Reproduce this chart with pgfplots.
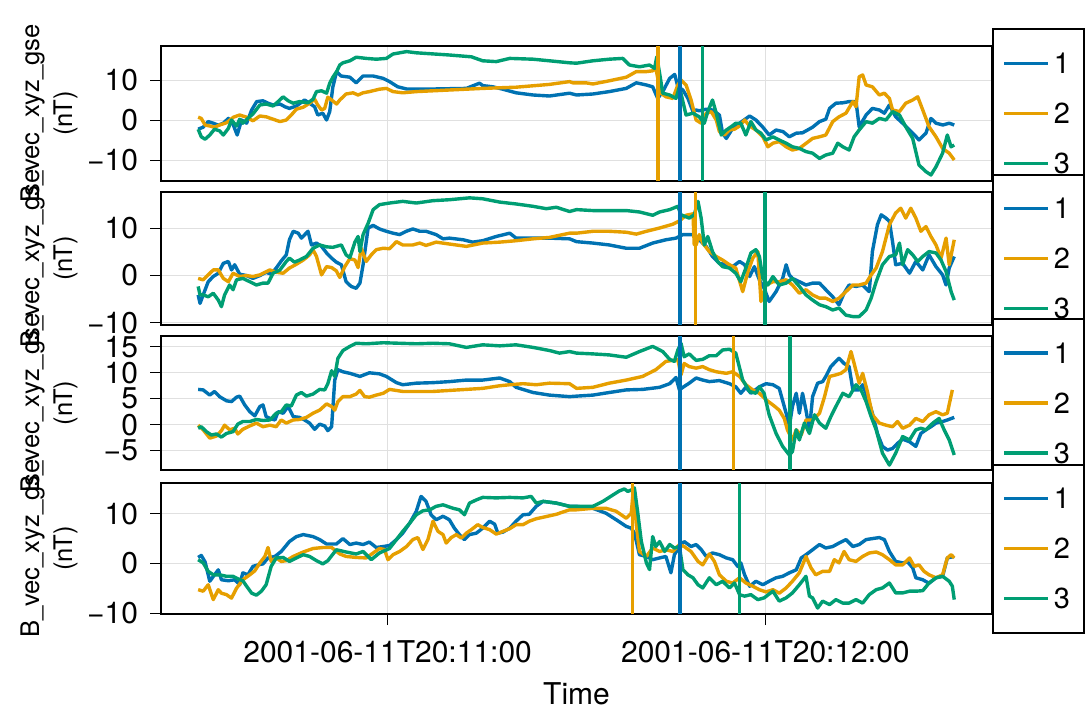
\documentclass[border=0pt]{standalone}
\usepackage{fontspec}
\setmainfont{TeX Gyre Heros}
\usepackage{pgfplots}
\pgfplotsset{compat=1.18}
\definecolor{c1}{RGB}{0,114,178}
\definecolor{c2}{RGB}{230,159,0}
\definecolor{c3}{RGB}{0,158,115}
\pgfplotsset{
  panel/.style={
    scale only axis,
    width=415.5pt,
    xmin=24, xmax=156,
    xtick={60,120},
    xticklabels={},
    tick pos=left,
    tick align=outside,
    major tick length=5.5pt,
    grid=major,
    major grid style={black!12, line width=0.5pt},
    axis line style={black, line width=1pt},
    every tick/.style={black, line width=0.5pt},
    tick label style={font=\fontsize{15}{17}\selectfont},
    yticklabel style={xshift=-2.5pt},
    xticklabel style={yshift=-4.5pt},
    ylabel={B\_vec\_xyz\_gse\\(nT)},
    ylabel style={at={([xshift=-56pt]rel axis cs:0,0.5)}, anchor=center, align=center,
      font=\fontsize{12.8}{16.5}\selectfont},
    legend style={at={(rel axis cs:1,0.5)}, anchor=west, draw=black, line width=1pt,
      fill=white, font=\fontsize{14.5}{16}\selectfont, inner xsep=4.85pt, inner ysep=10pt,
      row sep=11pt, nodes={inner sep=2pt, text height=10pt, text depth=0pt}},
    legend image code/.code={\draw[#1, line width=1.6pt] (0pt,0pt) -- (22pt,0pt);},
    legend cell align=left,
    every axis plot/.append style={line width=1.7pt, line join=round},
    no markers,
  },
  upper/.style={xtick style={draw=none}},
}
\begin{document}
\begin{tikzpicture}
% ---------------- panel 1 ----------------
\begin{axis}[panel, upper, at={(80.5pt,263.5pt)}, anchor=south west, height=67.5pt,
  ymin=-15.25, ymax=18.5, ytick={-10,0,10}, yticklabels={−10,0,10}]
\addplot[c1] coordinates {
(29.9,-2.3)(30.7,-1.8)(31.5,-0.4)(32.3,-0.8)(33.1,-1.3)(33.9,-0.8)(34.7,0.4)(35.5,-1.3)
(36.1,-3.75)(36.8,0)(37.6,-0.8)(38.4,2.5)(39.2,4.6)(40.2,4.8)(41.0,4.2)(41.8,3.75)(42.9,4.0)
(43.7,3.3)(44.4,2.9)(45.5,3.5)(46.8,5.0)(47.6,4.2)(48.4,3.3)(48.9,1.25)(49.7,1.7)(50.3,0)
(50.8,2.1)(51.3,8.3)(51.9,12.1)(52.6,11.0)(54.0,10.7)(55.0,9.3)(56.1,11.0)(57.7,11.0)
(59.3,10.4)(60.3,9.6)(61.6,8.3)(63.0,7.75)(67.2,7.75)(72.5,7.9)(74.6,9.2)(75.1,8.6)(76.7,8.3)
(78.3,7.7)(80.4,6.8)(83.1,6.25)(85.7,6.0)(88.9,6.7)(90.0,6.25)(92.6,6.5)(95.2,7.1)(97.9,7.9)
(99.5,9.3)(101.1,8.75)(102.1,8.3)(102.9,5.4)(103.7,7.1)(104.8,10.4)(105.6,11.4)(106.1,8.3)
(106.9,7.5)(107.7,5.4)(108.5,2.1)(109.0,2.5)(109.5,2.3)(110.6,2.7)(111.6,2.5)(112.7,1.25)
(113.2,-3.3)(113.8,-4.6)(114.8,-2.1)(115.9,-0.8)(117.5,1.0)(118.5,0)(119.6,-1.8)(120.6,-3.75)
(121.7,-2.5)(122.8,-2.9)(123.8,-4.2)(124.9,-3.3)(125.9,-3.2)(127.5,-1.8)(128.6,-0.4)(129.6,0.2)
(130.2,2.9)(131.2,4.2)(132.3,4.3)(133.3,4.6)(134.4,4.6)(134.9,-1.7)(136.0,1.25)(137.0,2.9)
(138.1,2.5)(138.9,1.7)(139.7,3.75)(140.7,0.8)(141.8,-0.8)(142.9,-2.5)(143.7,-3.75)(144.4,-5.0)
(145.5,-3.3)(146.3,0.4)(147.1,-0.8)(148.2,-1.25)(149.2,-0.8)(150.0,-1.25)};
\addlegendentry{1}
\addplot[c2] coordinates {
(29.9,0.7)(30.4,0.4)(31.0,-1.25)(31.75,-1.5)(32.5,-1.8)(33.3,-1.25)(34.4,-0.7)(35.5,0.7)
(36.5,1.25)(37.6,0.7)(38.6,-0.2)(39.7,1.0)(40.7,0.8)(41.8,0.2)(42.9,-0.4)(43.9,0)(44.7,1.25)
(45.5,2.7)(46.6,3.2)(47.6,4.2)(48.4,5.2)(48.9,3.75)(49.5,2.5)(50.0,2.9)(50.5,5.7)(51.1,5.0)
(51.9,4.0)(52.4,5.0)(53.4,6.5)(54.5,6.8)(55.3,6.25)(56.1,6.8)(57.1,7.1)(58.7,7.7)(59.8,7.9)
(60.85,7.1)(62.4,6.8)(64.55,7.1)(69.8,7.5)(75.1,7.9)(80.4,8.2)(85.7,8.9)(88.9,9.6)(89.4,9.3)
(91.5,9.3)(92.6,9.0)(95.2,9.8)(97.9,10.7)(99.5,12.1)(101.1,12.1)(102.1,12.3)(102.6,12.9)
(103.4,6.7)(104.2,5.8)(105.3,5.4)(106.1,8.75)(106.6,10.0)(107.4,8.75)(108.2,5.0)(109.0,0)
(109.8,-0.8)(110.6,1.7)(111.4,2.1)(112.2,0)(112.7,-2.9)(113.5,-3.75)(114.3,-2.5)(115.1,-2.3)
(115.9,-1.5)(116.7,0)(117.5,-1.5)(118.5,-2.5)(119.6,-4.2)(120.4,-6.7)(121.2,-5.8)(122.2,-5.4)
(123.3,-6.7)(124.3,-7.5)(125.4,-7.1)(126.5,-5.8)(127.5,-4.6)(128.6,-4.2)(129.6,-3.75)(130.7,-0.4)
(131.7,0.8)(132.8,1.7)(133.9,4.6)(134.4,3.3)(134.9,10.8)(135.45,11.25)(136.0,8.75)(137.0,8.3)
(138.1,6.25)(138.9,6.7)(139.7,5.4)(140.2,2.5)(141.3,2.1)(142.3,4.2)(143.4,5.0)(144.2,5.8)
(145.0,2.5)(146.0,-1.7)(147.1,-4.2)(148.15,-7.1)(149.2,-8.3)(150.0,-10.0)};
\addlegendentry{2}
\addplot[c3] coordinates {
(29.9,-2.3)(30.4,-4.2)(31.0,-4.8)(31.75,-3.75)(32.5,-2.3)(33.3,-2.7)(33.9,-3.75)(34.7,-2.1)
(35.2,0)(36.0,-1.5)(36.5,0.2)(37.0,-0.8)(37.8,0.4)(38.6,1.5)(39.7,3.75)(40.7,4.0)(41.8,3.5)
(42.6,4.6)(43.4,5.8)(44.2,4.8)(45.0,4.2)(46.0,4.6)(47.35,4.3)(48.15,5.2)(48.7,7.1)(49.5,7.3)
(50.3,6.7)(50.8,9.2)(51.3,10.7)(51.9,12.1)(52.4,13.75)(52.9,14.3)(54.0,14.8)(55.0,15.7)
(56.6,15.4)(58.2,15.2)(59.8,15.4)(60.85,16.5)(63.0,17.1)(64.55,16.8)(69.8,16.25)(73.3,15.8)
(75.1,14.8)(77.25,14.6)(79.4,15.4)(83.1,15.2)(85.7,14.8)(88.9,14.3)(90.0,14.2)(92.6,14.8)
(95.2,15.2)(97.35,15.4)(98.4,13.75)(100.0,13.3)(101.6,13.75)(102.4,12.9)(102.75,15.8)
(103.2,11.7)(103.7,6.7)(104.8,6.25)(105.8,5.4)(106.35,8.3)(107.4,1.25)(108.5,1.7)(109.5,0.8)
(110.3,-0.8)(110.85,2.1)(111.6,5.0)(112.2,1.7)(113.0,-3.75)(113.8,-2.5)(114.55,-1.7)(115.3,-0.8)
(116.1,-0.8)(116.9,-3.75)(117.7,-0.4)(118.5,-2.5)(119.3,-3.3)(120.1,-5.0)(121.2,-4.2)(122.2,-5.0)
(123.3,-5.8)(124.3,-6.7)(125.4,-7.1)(126.45,-7.9)(127.5,-8.3)(128.6,-9.6)(129.6,-8.75)
(130.7,-8.3)(131.5,-5.8)(132.3,-6.7)(133.3,-7.5)(134.1,-4.2)(134.9,-2.5)(136.0,-0.4)(137.0,-0.8)
(138.1,0.4)(139.15,0)(140.2,2.1)(141.3,1.25)(142.3,-1.7)(143.4,-4.6)(144.4,-11.25)(145.5,-12.9)
(146.3,-13.75)(147.1,-11.7)(148.15,-8.3)(148.9,-3.75)(149.5,-6.7)(150.0,-6.25)};
\addlegendentry{3}
\addplot[c2, forget plot] coordinates {(102.97,-15.25)(102.97,18.5)};
\addplot[c1, forget plot] coordinates {(106.46,-15.25)(106.46,18.5)};
\addplot[c3, forget plot] coordinates {(110.0,-15.25)(110.0,18.5)};
\end{axis}
% ---------------- panel 2 ----------------
\begin{axis}[panel, upper, at={(80.5pt,191.5pt)}, anchor=south west, height=66.5pt,
  ymin=-10.49, ymax=17.74, ytick={-10,0,10}, yticklabels={−10,0,10}]
\addplot[c1] coordinates {
(29.9,-4.1)(30.2,-5.9)(30.7,-4.1)(31.5,-1.3)(32.3,-0.2)(33.1,0.5)(33.9,2.6)(34.7,3.0)(35.2,1.2)
(35.7,2.3)(36.5,0.3)(37.6,0)(38.6,-0.6)(39.7,0)(40.7,0.7)(41.5,0.3)(42.3,1.6)(43.1,3.1)(43.9,4.4)
(44.4,7.6)(45.0,9.4)(45.8,9.0)(46.3,7.95)(47.35,9.4)(47.9,6.5)(48.7,6.9)(49.5,6.2)(50.3,4.8)
(51.1,3.7)(51.85,2.85)(52.65,2.3)(53.4,-1.3)(54.2,-2.3)(55.0,-2.7)(55.6,-1.6)(56.1,2.3)(56.9,10.1)
(57.7,10.65)(58.7,9.9)(59.8,9.4)(60.85,9.0)(61.9,8.7)(62.96,9.4)(64.0,9.9)(65.1,9.4)(66.1,9.4)
(67.7,8.7)(68.8,7.8)(69.8,7.95)(72.0,7.6)(73.5,7.1)(75.1,7.4)(77.25,8.3)(79.4,9.0)(80.4,7.95)
(83.1,7.95)(85.7,7.95)(88.9,7.8)(90.0,7.2)(92.6,6.9)(95.2,6.5)(97.9,5.8)(100.0,5.8)(102.1,6.9)
(104.2,7.6)(105.8,7.95)(106.9,8.7)(108.5,8.7)(109.0,8.3)(109.8,7.2)(110.6,6.2)(111.6,4.05)
(112.7,2.6)(113.8,2.3)(114.8,1.9)(115.9,3.0)(116.7,2.3)(117.5,-0.2)(118.25,1.9)(119.05,-0.9)
(119.8,-2.7)(120.6,-5.5)(121.7,-3.4)(122.75,-0.6)(123.3,2.3)(123.8,0.15)(124.3,-0.6)(125.4,-1.3)
(126.45,-2.0)(127.5,-1.6)(128.6,-1.6)(129.6,-3.0)(130.7,-4.5)(131.7,-6.2)(132.5,-3.75)(133.3,-2.0)
(134.4,-2.3)(135.45,-2.0)(136.5,-3.4)(137.0,5.1)(137.8,10.8)(138.4,12.9)(139.15,12.2)(139.7,11.5)
(140.2,7.2)(140.7,2.3)(141.8,2.6)(142.9,0.5)(143.9,3.0)(145.0,1.2)(146.0,4.4)(147.1,1.9)
(148.15,0.15)(148.7,-2.0)(149.2,1.6)(150.0,4.05)};
\addlegendentry{1}
\addplot[c2] coordinates {
(29.9,-0.6)(30.7,-0.9)(31.5,0.15)(32.3,1.2)(33.1,1.2)(33.9,-0.6)(34.7,-1.3)(35.45,0.5)(36.5,-0.2)
(37.6,0)(38.6,-0.2)(39.7,0.15)(41.3,1.2)(42.3,0.7)(43.4,0.5)(44.4,1.6)(45.5,2.4)(46.6,3.3)
(47.6,4.4)(48.15,5.5)(48.7,4.05)(49.5,0.15)(50.3,1.9)(51.1,1.7)(51.85,1.0)(52.4,-0.4)(53.2,1.9)
(54.0,3.6)(54.8,3.3)(55.3,1.7)(55.8,5.8)(56.6,3.0)(57.4,4.4)(58.2,5.5)(59.3,5.8)(60.3,5.7)
(61.4,7.2)(62.4,6.5)(64.0,6.5)(65.1,6.9)(66.1,6.4)(67.7,7.1)(69.8,6.7)(72.5,6.2)(75.1,6.9)
(77.8,7.1)(80.4,7.4)(83.1,7.8)(85.7,8.1)(88.9,9.0)(90.0,9.0)(92.6,9.4)(95.2,9.4)(97.9,9.2)
(99.5,8.8)(101.1,9.4)(103.2,10.1)(105.3,10.9)(106.35,11.6)(107.4,12.8)(108.5,13.1)(108.7,6.5)
(109.0,6.5)(109.5,8.7)(110.05,6.9)(111.1,5.1)(112.2,4.05)(113.2,3.3)(114.3,2.3)(115.3,1.6)
(116.4,-3.4)(117.2,0.7)(118.0,3.7)(118.8,5.1)(119.3,-5.5)(120.1,-2.0)(121.2,-1.3)(122.2,-1.3)
(123.3,-0.9)(124.3,-2.0)(125.4,-3.75)(126.45,-3.0)(127.5,-4.1)(128.6,-4.8)(129.6,-4.8)
(130.7,-5.5)(131.7,-4.8)(132.8,-3.4)(133.9,-2.0)(134.9,-2.0)(136.0,-1.6)(136.8,0.15)(137.6,1.6)
(138.6,5.1)(139.7,10.8)(140.7,13.3)(141.5,14.3)(142.3,12.2)(143.1,14.3)(143.9,12.2)(144.7,9.4)
(145.5,10.4)(146.3,8.3)(147.1,6.5)(147.9,3.7)(148.7,7.95)(149.2,2.3)(150.0,7.6)};
\addlegendentry{2}
\addplot[c3] coordinates {
(29.9,-2.3)(30.2,-4.1)(30.7,-4.1)(31.5,-4.5)(32.3,-3.75)(33.1,-5.2)(33.6,-6.6)(34.1,-4.1)
(34.9,-2.0)(35.45,-3.0)(36.0,-0.9)(37.0,-0.6)(38.1,-1.3)(39.15,-2.0)(40.2,-1.6)(41.0,-1.6)
(41.8,0.5)(42.9,1.2)(43.9,3.0)(44.4,3.7)(45.2,2.85)(46.0,3.3)(47.1,4.05)(48.15,5.8)(49.2,6.5)
(50.3,6.1)(51.3,6.0)(52.65,6.5)(53.4,4.4)(54.0,3.8)(54.8,7.1)(55.3,8.3)(55.6,5.1)(56.1,8.7)
(56.9,11.1)(57.7,14.0)(58.7,15.05)(60.3,15.4)(62.4,15.75)(64.55,15.4)(67.2,15.9)(69.8,16.1)
(73.0,16.5)(75.1,16.3)(77.8,15.6)(80.4,15.2)(83.1,14.7)(85.2,14.2)(86.8,14.5)(88.9,13.6)
(90.0,14.0)(92.6,13.8)(95.2,13.8)(97.9,13.8)(100.0,13.5)(102.1,12.8)(103.2,13.5)(104.8,14.0)
(106.1,14.7)(106.6,12.9)(107.9,12.2)(108.7,12.9)(109.3,15.75)(109.8,12.2)(110.3,6.5)(110.85,8.3)
(111.6,5.1)(112.4,3.0)(113.2,1.9)(114.3,1.6)(115.3,0.5)(116.1,-1.3)(116.9,1.6)(117.7,4.8)
(118.5,5.5)(119.05,4.05)(119.6,-0.6)(120.4,-2.0)(121.2,-0.2)(122.2,-2.0)(123.3,-1.6)(124.3,-0.6)
(125.4,-2.3)(126.45,-4.1)(127.5,-5.2)(128.6,-6.2)(129.6,-6.6)(130.7,-7.3)(131.7,-6.9)(132.8,-8.4)
(133.9,-8.7)(134.9,-8.7)(136.0,-7.3)(136.8,-4.8)(137.6,-1.3)(138.6,2.3)(139.7,4.05)(140.7,4.4)
(141.3,6.9)(141.8,2.3)(142.6,5.5)(143.4,4.4)(144.2,3.0)(145.0,4.05)(146.0,5.1)(147.1,4.8)
(147.9,3.3)(148.7,0.85)(149.5,-3.4)(150.0,-5.2)};
\addlegendentry{3}
\addplot[c1, forget plot] coordinates {(106.46,-10.49)(106.46,17.74)};
\addplot[c2, forget plot] coordinates {(108.94,-10.49)(108.94,17.74)};
\addplot[c3, forget plot] coordinates {(119.95,-10.49)(119.95,17.74)};
\end{axis}
% ---------------- panel 3 ----------------
\begin{axis}[panel, upper, at={(80.5pt,119pt)}, anchor=south west, height=67pt,
  ymin=-8.75, ymax=17.1, ytick={-5,0,5,10,15}, yticklabels={−5,0,5,10,15}]
\addplot[c1] coordinates {
(29.9,6.8)(30.7,6.7)(31.75,5.7)(32.5,6.4)(33.3,5.4)(34.4,4.6)(35.2,4.45)(36.0,5.3)(36.5,5.5)
(37.3,3.8)(38.1,2.5)(38.9,1.7)(39.7,3.5)(40.2,3.8)(40.7,1.55)(41.3,1.2)(42.1,0.9)(42.6,2.5)
(43.4,2.2)(44.2,3.5)(45.0,1.55)(46.0,1.4)(46.8,0.9)(47.6,0.3)(48.4,-0.9)(49.2,0.1)(50.0,-0.25)
(50.5,-1.15)(51.1,-0.4)(51.6,8.6)(52.1,10.6)(52.9,10.2)(54.0,9.9)(55.6,9.3)(57.1,10.0)(58.7,9.8)
(59.8,9.3)(61.4,8.1)(62.4,7.7)(64.55,8.0)(67.2,8.1)(69.8,8.3)(72.5,8.6)(75.1,8.6)(77.8,9.0)
(79.4,8.3)(80.4,7.2)(83.1,6.2)(85.7,5.7)(88.9,5.4)(90.0,5.5)(92.6,5.7)(95.2,6.2)(97.9,6.7)
(100.5,6.8)(103.2,7.2)(104.8,7.9)(105.8,9.1)(106.35,6.7)(106.9,7.2)(107.9,8.0)(109.0,9.0)
(110.05,8.6)(111.1,8.3)(112.7,8.5)(114.3,7.9)(115.3,7.3)(116.1,6.05)(116.9,7.2)(117.7,6.05)
(119.05,7.3)(120.1,7.9)(121.2,7.7)(122.2,7.0)(123.3,2.2)(123.8,-0.4)(124.3,3.5)(124.9,6.05)
(125.4,2.2)(125.9,6.05)(126.45,2.8)(127.0,-1.0)(127.5,5.4)(128.3,8.0)(129.1,8.3)(129.6,9.3)
(130.4,11.2)(131.2,12.2)(131.7,12.8)(132.5,11.8)(133.3,11.2)(133.9,6.7)(134.9,6.7)(135.45,7.7)
(136.2,5.4)(137.0,2.2)(137.8,-1.7)(138.6,-4.2)(139.4,-4.9)(140.2,-4.6)(141.0,-3.6)(141.8,-2.8)
(142.9,-3.3)(143.9,-4.2)(144.7,-1.7)(145.5,-1.0)(146.3,-0.4)(147.1,0.3)(148.15,0.6)(148.9,0.9)
(150.0,1.4)};
\addlegendentry{1}
\addplot[c2] coordinates {
(29.9,-0.1)(30.7,-1.0)(31.75,-2.6)(32.8,-2.2)(33.6,-1.15)(34.1,-0.1)(34.9,-1.0)(35.7,-0.7)
(36.2,-1.8)(37.0,-0.9)(38.1,-0.25)(39.15,0.3)(40.2,-0.4)(41.3,-0.1)(42.3,-0.4)(43.1,0.9)(43.9,0.3)
(45.0,0.9)(46.0,1.0)(47.1,1.4)(48.15,2.2)(49.2,2.8)(50.3,4.0)(51.1,3.5)(51.6,2.8)(52.1,4.45)
(52.9,5.4)(54.0,5.4)(55.0,5.9)(55.6,6.6)(56.35,5.4)(57.1,5.3)(58.2,5.7)(59.3,6.05)(60.3,6.8)
(62.4,6.4)(64.55,6.4)(67.2,6.4)(69.8,6.6)(72.5,6.8)(75.1,7.0)(77.8,7.5)(79.4,7.7)(81.5,7.9)
(83.6,7.7)(85.7,8.0)(88.9,7.9)(90.0,7.0)(92.6,7.2)(95.2,8.0)(97.9,8.6)(100.5,9.3)(102.6,10.6)
(104.2,12.2)(105.3,12.4)(106.1,12.5)(106.6,9.6)(107.1,11.8)(107.9,11.2)(109.0,10.9)(110.05,11.2)
(111.1,10.6)(112.2,10.2)(113.8,9.9)(114.8,10.2)(115.9,9.3)(116.9,7.7)(118.0,6.7)(119.05,6.05)
(120.1,4.8)(121.2,3.8)(122.2,2.8)(123.0,1.2)(123.5,-1.0)(124.3,-2.95)(124.9,-1.0)(125.7,-2.0)
(126.45,0.9)(127.5,0.9)(128.6,2.2)(129.4,5.4)(130.2,9.3)(131.2,9.6)(132.0,9.9)(132.8,10.6)
(133.6,14.1)(134.1,11.8)(134.9,8.0)(135.45,9.9)(136.2,6.4)(137.0,1.9)(138.1,0.3)(139.15,-0.1)
(140.2,-0.4)(141.0,0.6)(141.8,-0.7)(142.9,-0.1)(143.9,1.2)(145.0,0.6)(146.0,1.9)(147.1,2.5)
(148.15,1.9)(148.9,2.2)(149.7,6.7)};
\addlegendentry{2}
\addplot[c3] coordinates {
(29.9,-0.7)(30.4,-0.4)(31.2,-1.35)(32.0,-2.0)(32.8,-1.8)(33.6,-2.4)(34.4,-1.7)(35.45,-1.35)
(36.2,0.1)(37.0,0.6)(38.1,0.6)(39.15,1.0)(40.2,0.8)(41.3,0.9)(42.3,2.2)(43.1,2.5)(43.9,3.8)
(44.7,3.6)(45.5,5.7)(46.3,6.2)(47.1,5.5)(48.15,5.9)(49.2,6.8)(50.0,6.7)(50.5,7.9)(51.1,10.4)
(51.6,9.3)(52.1,12.8)(52.9,14.3)(54.0,15.1)(55.0,15.7)(56.6,15.6)(59.3,15.8)(61.9,15.7)
(64.55,15.6)(67.2,15.7)(69.8,15.6)(72.5,14.9)(75.1,15.4)(77.8,15.2)(80.4,15.4)(83.1,14.9)
(85.7,14.3)(87.3,13.8)(88.9,14.1)(90.0,13.8)(92.6,13.65)(95.2,13.45)(97.9,13.0)(100.0,14.1)
(102.1,15.1)(103.7,14.1)(104.8,12.6)(105.55,12.2)(106.1,14.4)(106.6,15.7)(107.1,13.1)
(107.9,13.65)(109.0,12.4)(110.05,12.6)(111.1,13.3)(112.2,13.3)(113.2,14.4)(114.3,14.55)
(115.3,13.8)(116.4,8.6)(117.5,6.4)(118.5,6.05)(119.05,7.3)(119.8,6.05)(120.6,1.9)(121.7,-1.7)
(122.75,-4.2)(123.8,-5.85)(124.3,-5.2)(124.9,-1.0)(125.4,-2.95)(126.2,0.3)(127.0,-1.7)
(127.8,1.9)(128.6,0.3)(129.6,-0.7)(130.4,1.55)(131.2,3.5)(132.3,6.05)(133.3,5.4)(134.4,7.7)
(135.2,6.7)(136.0,4.45)(136.8,1.55)(137.6,-1.0)(138.6,-5.5)(139.7,-7.8)(140.7,-5.5)(141.8,-2.3)
(142.9,-2.95)(143.9,-1.0)(144.7,-0.7)(145.5,-1.0)(146.6,0.3)(147.6,1.2)(148.4,-1.0)(149.2,-2.95)
(150.0,-5.85)};
\addlegendentry{3}
\addplot[c1, forget plot] coordinates {(106.46,-8.75)(106.46,17.1)};
\addplot[c2, forget plot] coordinates {(114.92,-8.75)(114.92,17.1)};
\addplot[c3, forget plot] coordinates {(123.92,-8.75)(123.92,17.1)};
\end{axis}
% ---------------- panel 4 ----------------
\begin{axis}[panel, at={(80.5pt,47pt)}, anchor=south west, height=65.5pt,
  ymin=-10.2, ymax=16.2, ytick={-10,0,10}, yticklabels={−10,0,10},
  xticklabels={2001-06-11T20:11:00,2001-06-11T20:12:00},
  xlabel={Time},
  xlabel style={at={([yshift=-45pt]rel axis cs:0.5,0)}, anchor=base,
    font=\fontsize{15}{17}\selectfont}]
\addplot[c1] coordinates {
(29.9,1.2)(30.4,1.6)(31.0,0.3)(31.75,-3.6)(32.5,-2.3)(33.1,-1.3)(33.6,-3.3)(34.7,-3.5)(35.7,-3.3)
(36.5,-4.3)(37.0,-1.9)(37.8,-2.3)(38.6,-0.6)(39.4,-0.3)(40.2,-0.1)(41.0,1.1)(42.1,1.4)(43.1,2.4)
(44.4,4.4)(45.5,5.4)(46.6,5.8)(48.15,5.4)(49.2,4.8)(50.3,3.9)(51.85,3.9)(52.9,5.0)(54.0,3.8)
(55.0,4.1)(56.1,3.8)(57.1,4.3)(58.2,3.2)(59.3,3.4)(60.3,3.6)(61.4,4.8)(62.4,6.1)(63.5,8.1)
(64.55,10.5)(65.3,13.5)(66.1,12.5)(66.9,9.8)(67.7,8.8)(68.8,9.5)(69.8,8.8)(70.6,7.1)(71.4,5.8)
(72.2,4.8)(73.0,5.8)(74.1,6.1)(75.1,7.1)(76.2,8.5)(77.0,7.9)(77.5,6.1)(78.3,6.3)(79.4,7.1)
(80.4,8.5)(81.5,9.8)(82.5,9.9)(83.6,11.5)(84.7,12.5)(86.8,12.15)(88.9,11.5)(90.0,11.5)(92.6,11.1)
(94.7,10.1)(96.3,8.8)(97.9,7.45)(98.7,7.1)(99.2,6.1)(100.0,1.75)(101.1,1.4)(102.1,0.75)(103.2,1.1)
(104.2,1.4)(105.0,-1.9)(105.55,1.75)(106.35,3.4)(107.1,4.4)(108.2,3.4)(109.0,3.8)(109.8,2.8)
(110.6,1.4)(111.6,2.1)(112.7,1.75)(113.8,1.1)(114.8,0.75)(115.6,-0.6)(116.1,0.1)(116.7,-2.3)
(117.5,-4.6)(118.5,-3.6)(119.6,-4.3)(120.6,-3.6)(121.7,-2.9)(122.75,-2.6)(123.8,-1.9)(124.9,-1.3)
(125.7,1.1)(126.45,1.75)(127.5,2.75)(128.6,3.8)(129.6,3.1)(130.7,3.4)(131.7,4.1)(132.8,4.8)
(133.9,3.4)(134.9,3.8)(136.0,4.8)(137.0,5.0)(138.1,5.2)(138.9,4.8)(139.7,2.4)(140.7,0.4)
(141.8,0.1)(142.6,0.3)(143.4,-0.9)(143.9,-2.9)(145.0,-3.3)(146.0,-4.0)(147.1,-2.9)(148.15,-2.6)
(148.9,1.1)(150.0,1.4)};
\addlegendentry{1}
\addplot[c2] coordinates {
(29.9,-5.3)(30.7,-5.6)(31.5,-4.3)(32.3,-7.3)(33.1,-5.3)(33.6,-6.0)(34.4,-6.3)(35.2,-7.0)(36.0,-5.0)
(37.0,-3.3)(38.1,-2.3)(38.9,-1.5)(39.7,0.1)(40.5,1.4)(41.0,3.2)(41.5,0.4)(42.3,1.1)(43.1,0.4)
(43.9,0.55)(45.0,1.4)(46.6,2.3)(48.15,3.0)(49.7,3.2)(51.1,3.2)(52.4,1.9)(53.4,1.4)(55.0,1.2)
(56.6,1.1)(57.7,2.1)(58.7,3.0)(59.5,2.8)(60.05,0.75)(60.85,1.75)(61.9,2.4)(63.0,3.4)(64.0,4.8)
(64.8,5.2)(65.6,2.8)(66.4,4.8)(67.2,8.5)(68.0,6.45)(68.8,5.8)(69.3,4.1)(70.1,5.2)(70.9,5.8)
(71.7,5.1)(72.5,6.1)(73.3,6.8)(74.3,7.8)(75.1,7.25)(76.2,6.8)(77.25,5.9)(78.3,6.45)(79.4,7.0)
(80.4,7.8)(81.5,7.8)(82.5,8.5)(83.6,9.0)(84.7,9.3)(86.8,9.9)(88.9,10.8)(90.0,10.8)(92.6,11.1)
(94.7,11.1)(96.3,10.5)(97.9,9.1)(98.7,10.1)(99.05,15.2)(99.5,7.8)(100.0,2.4)(101.1,1.4)(102.1,3.1)
(103.2,2.4)(104.2,2.75)(105.3,2.4)(106.35,3.8)(107.1,3.4)(108.2,2.4)(109.3,0.4)(110.05,-0.3)
(111.1,1.9)(111.9,0.4)(112.7,-2.3)(113.8,-3.6)(114.8,-3.95)(115.9,-2.9)(116.9,-3.95)(118.0,-4.6)
(119.05,-5.3)(120.1,-5.75)(121.2,-5.3)(122.2,-6.0)(123.3,-4.95)(124.3,-3.6)(125.4,-1.9)
(126.45,1.4)(127.25,-0.9)(128.0,-2.3)(129.1,-1.6)(130.2,-1.6)(130.95,0.75)(131.7,0.1)(132.5,2.4)
(133.3,0.75)(134.4,0.4)(135.45,1.4)(136.5,2.1)(137.6,2.3)(138.6,1.75)(139.7,0.75)(140.7,-0.3)
(141.8,-0.3)(142.9,1.1)(143.65,-0.6)(144.4,-0.3)(145.2,-1.6)(146.0,-2.3)(147.1,-2.9)(148.15,-2.3)
(148.9,1.1)(149.5,1.75)(150.0,1.1)};
\addlegendentry{2}
\addplot[c3] coordinates {
(29.9,0.75)(30.7,0.1)(31.5,-1.6)(32.3,-2.3)(33.3,-2.3)(34.4,-2.6)(35.45,-2.6)(36.2,-3.1)(37.0,-3.5)
(37.6,-4.6)(38.4,-6.0)(39.15,-6.4)(39.95,-5.6)(40.7,-4.3)(41.5,-0.6)(42.3,1.1)(43.4,1.2)(44.4,0.4)
(45.5,1.1)(46.6,1.75)(47.6,1.4)(48.7,0.55)(49.7,-0.1)(50.5,0.55)(51.85,2.75)(53.4,2.3)(55.0,1.9)
(56.1,2.4)(57.4,0.75)(58.7,2.1)(60.3,3.0)(61.4,4.8)(62.4,6.45)(63.5,8.1)(64.55,9.8)(65.6,10.6)
(66.7,10.8)(67.7,11.5)(68.8,11.8)(70.4,11.1)(71.4,10.8)(72.2,9.8)(73.0,12.15)(74.1,12.8)
(75.1,13.3)(77.25,13.2)(79.4,13.3)(81.5,13.2)(82.8,13.5)(83.6,12.15)(84.7,12.5)(86.8,12.15)
(88.9,11.5)(90.0,11.5)(92.6,11.5)(94.2,12.5)(95.8,13.8)(96.8,14.6)(97.6,15.0)(98.15,14.5)
(98.7,14.8)(99.2,15.2)(99.7,10.5)(100.3,4.4)(101.1,0.1)(101.6,-1.25)(102.1,5.4)(102.6,3.4)
(103.2,4.4)(104.0,2.4)(104.8,3.8)(105.55,3.1)(106.35,3.4)(106.9,-1.25)(107.7,-2.3)(108.5,-2.9)
(109.3,-4.3)(110.05,-4.95)(111.1,-2.9)(112.2,-4.3)(113.2,-3.6)(114.3,-4.95)(115.1,-3.95)
(115.9,-6.3)(116.7,-6.6)(117.7,-6.3)(118.8,-7.3)(119.8,-6.95)(121.2,-5.6)(122.2,-7.6)(123.3,-6.95)
(124.3,-5.95)(125.4,-4.3)(126.45,-2.6)(127.0,-6.6)(127.5,-6.95)(128.3,-9.0)(129.1,-7.6)(130.2,-8.3)
(131.2,-7.3)(132.3,-8.0)(133.3,-8.0)(134.4,-7.3)(135.45,-8.0)(136.5,-6.3)(137.6,-5.3)(138.6,-4.95)
(139.7,-3.95)(140.7,-5.95)(141.8,-5.95)(142.9,-5.6)(143.9,-5.6)(145.0,-5.5)(146.0,-3.95)
(147.1,-2.9)(148.15,-2.6)(149.2,-3.6)(149.7,-4.6)(150.0,-7.3)};
\addlegendentry{3}
\addplot[c2, forget plot] coordinates {(98.94,-10.2)(98.94,16.2)};
\addplot[c1, forget plot] coordinates {(106.46,-10.2)(106.46,16.2)};
\addplot[c3, forget plot] coordinates {(115.92,-10.2)(115.92,16.2)};
\end{axis}
\pgfresetboundingbox
\useasboundingbox (0pt,0pt) rectangle (542.5pt,354pt);
\end{tikzpicture}
\end{document}
